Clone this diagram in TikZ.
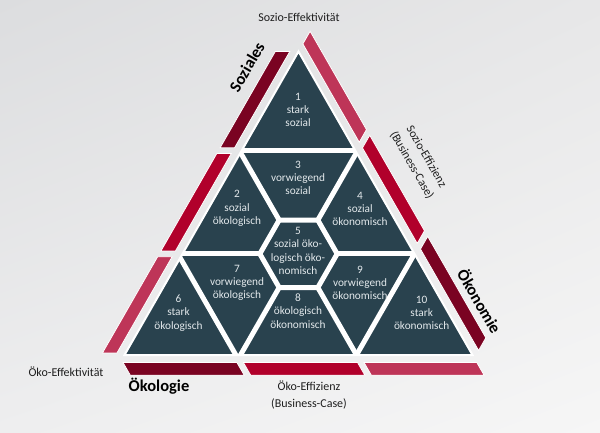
\documentclass[tikz,border=0pt]{standalone}
\usepackage{fontspec}
\setmainfont{Carlito}
\usetikzlibrary{shadings}
\definecolor{cellc}{HTML}{29424E}
\definecolor{celltxt}{HTML}{E2E8EB}
\definecolor{rdark}{HTML}{7A0322}
\definecolor{rmid}{HTML}{B1002B}
\definecolor{rpink}{HTML}{BE3558}
\definecolor{bgA}{HTML}{DCDDDF}
\definecolor{bgB}{HTML}{E7E7E8}
\definecolor{bgC}{HTML}{EEEEEF}
\definecolor{bgD}{HTML}{F6F6F6}
\definecolor{labc}{HTML}{1E1E1E}
\begin{document}
\begin{tikzpicture}[x=1pt,y=-1pt,
  celltext/.style={text=celltxt, align=center, inner sep=0pt, font=\fontsize{11.3}{13.3}\selectfont},
  lab/.style={text=labc, align=center, inner sep=0pt, font=\fontsize{12}{16.7}\selectfont},
  blab/.style={text=black, inner sep=0pt, font=\fontsize{16.5}{19}\selectfont\bfseries},
  gapline/.style={white, line width=5pt},
  bar/.style={draw=white, line width=0.8pt, line join=miter}]
\shade[upper left=bgA, upper right=bgB, lower left=bgC, lower right=bgD] (0,0) rectangle (600,433);
\useasboundingbox (0,0) rectangle (600,433);
\begin{scope}[shift={(124.5,355)}, x={(116pt,0pt)}, y={(58pt,101.17pt)}]
  % bars bottom (cuts along i+j = c)
  \fill[rdark, bar] (0.025,-0.075) -- (1.007,-0.075) -- (1.132,-0.2) -- (0.15,-0.2) -- cycle;
  \fill[rmid, bar] (1.063,-0.075) -- (2.047,-0.075) -- (2.172,-0.2) -- (1.188,-0.2) -- cycle;
  \fill[rpink, bar] (2.103,-0.075) -- (3.075,-0.075) -- (3.2,-0.2) -- (2.228,-0.2) -- cycle;
  % bars left (cuts along j = c)
  \fill[rdark, bar] (-0.075,2.048) -- (-0.075,3.0) -- (-0.2,3.0) -- (-0.2,2.048) -- cycle;
  \fill[rmid, bar] (-0.075,1.028) -- (-0.075,1.992) -- (-0.2,1.992) -- (-0.2,1.028) -- cycle;
  \fill[rpink, bar] (-0.075,0.02) -- (-0.075,0.972) -- (-0.2,0.972) -- (-0.2,0.02) -- cycle;
  % bars right (cuts along i = c)
  \fill[rdark, bar] (2.028,1.047) -- (3.03,0.045) -- (3.03,0.17) -- (2.028,1.172) -- cycle;
  \fill[rmid, bar] (1.028,2.047) -- (1.972,1.103) -- (1.972,1.228) -- (1.028,2.172) -- cycle;
  \fill[rpink, bar] (0,3.075) -- (0.972,2.103) -- (0.972,2.228) -- (0,3.2) -- cycle;
  % cells
  \fill[cellc] (0,0) -- (3,0) -- (0,3) -- cycle;
  \begin{scope}
    \clip (0,0) -- (3,0) -- (0,3) -- cycle;
    \draw[gapline] (-0.5,2.02) -- (1.5,2.02);
    \draw[gapline] (-0.5,1) -- (2/3,1);
    \draw[gapline] (4/3,1) -- (2.5,1);
    \draw[gapline] (1,-0.5) -- (1,2/3);
    \draw[gapline] (1,4/3) -- (1,2.5);
    \draw[gapline] (2,-0.5) -- (2,1.5);
    \draw[gapline] (-0.5,1.46) -- (1.46,-0.5);
    \draw[gapline] (2/3,4/3) -- (-0.5,2.5);
    \draw[gapline] (4/3,2/3) -- (2.5,-0.5);
    \draw[gapline, line join=miter] (4/3,1) -- (1,4/3) -- (2/3,4/3) -- (2/3,1) -- (1,2/3) -- (4/3,2/3) -- cycle;
  \end{scope}
  \draw[white, line width=2pt, line join=miter] (0,0) -- (3,0) -- (0,3) -- cycle;
\end{scope}
% cell texts
\node[celltext] (c1) at (298,110) {1\\stark\\sozial};
\node[celltext] (c2) at (237,208.5) {2\\sozial\\ökologisch};
\node[celltext] (c3) at (298,178) {3\\vorwiegend\\sozial};
\node[celltext] (c4) at (360,209) {4\\sozial\\ökonomisch};
\node[celltext] (c5) at (298,251) {5\\sozial öko-\\logisch öko-\\nomisch};
\node[celltext] (c6) at (178.5,313) {6\\stark\\ökologisch};
\node[celltext] (c7) at (237,283) {7\\vorwiegend\\ökologisch};
\node[celltext] (c8) at (298,311) {8\\ökologisch\\ökonomisch};
\node[celltext] (c9) at (360,282.7) {9\\vorwiegend\\ökonomisch};
\node[celltext] (c10) at (421.7,313) {10\\stark\\ökonomisch};
% outer labels
\node[lab] (se) at (299,17) {Sozio-Effektivität};
\node[lab] (oe) at (66,372) {Öko-Effektivität};
\node[lab] (oz) at (309,395) {Öko-Effizienz\\(Business-Case)};
\node[lab, rotate=-60] (sz) at (419,161) {Sozio-Effizienz\\(Business-Case)};
\node[blab, rotate=60] (soz) at (247,67) {Soziales};
\node[blab] (okol) at (159,386) {Ökologie};
\node[blab, rotate=-60] (okon) at (480,301) {Ökonomie};
\end{tikzpicture}
\end{document}
